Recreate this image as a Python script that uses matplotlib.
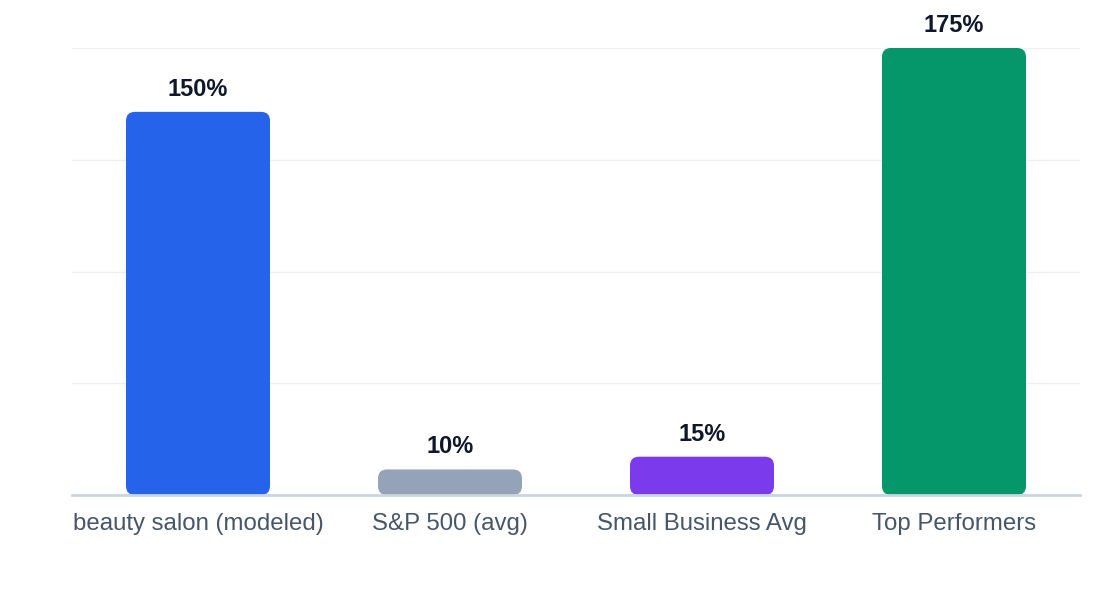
import matplotlib
matplotlib.use('Agg')
import matplotlib.pyplot as plt
from matplotlib.patches import FancyBboxPatch
import numpy as np

categories = ['beauty salon (modeled)', 'S&P 500 (avg)', 'Small Business Avg', 'Top Performers']
values = [150, 10, 15, 175]
labels = ['150%', '10%', '15%', '175%']
colors = ['#2563eb', '#94a3b8', '#7c3aed', '#059669']

plt.rcParams['font.family'] = ['Liberation Sans', 'DejaVu Sans']

fig = plt.figure(figsize=(11.2, 6), dpi=100)
ax = fig.add_axes([72 / 1120, 105 / 600, 1008 / 1120, 447 / 600])

ax.set_xlim(-0.5, len(categories) - 0.5)
ax.set_ylim(0, 175)

# gridlines
ax.set_yticks(np.linspace(0, 175, 5))
ax.yaxis.grid(True, color='#edf0f4', linewidth=1)
ax.set_axisbelow(True)
ax.tick_params(axis='y', length=0, labelleft=False)
for s in ['top', 'right', 'left']:
    ax.spines[s].set_visible(False)
ax.spines['bottom'].set_color('#cbd5e1')
ax.spines['bottom'].set_linewidth(2)
ax.spines['bottom'].set_zorder(5)

ax.set_xticks(range(len(categories)))
ax.set_xticklabels(categories, fontsize=17.3, color='#475569')
ax.tick_params(axis='x', length=0, pad=13)

# rounded bars: fix aspect so corners are circular in pixels
fig.canvas.draw()
p0 = ax.transData.transform((0, 0))
p1 = ax.transData.transform((1, 1))
px_x = p1[0] - p0[0]
px_y = p1[1] - p0[1]
aspect = px_x / px_y
radius_px = 9
width = 144 / 252

for i, (v, c) in enumerate(zip(values, colors)):
    box = FancyBboxPatch((i - width / 2, 0), width, v,
                         boxstyle='round,pad=0,rounding_size=%f' % (radius_px / px_x),
                         mutation_aspect=aspect,
                         facecolor=c, edgecolor='none', zorder=3)
    ax.add_patch(box)
    ax.annotate(labels[i], (i, v), xytext=(0, 8), textcoords='offset points',
                ha='center', va='bottom', fontsize=17, fontweight='bold',
                color='#0f172a', annotation_clip=False)

fig.savefig('out.png', dpi=100)
